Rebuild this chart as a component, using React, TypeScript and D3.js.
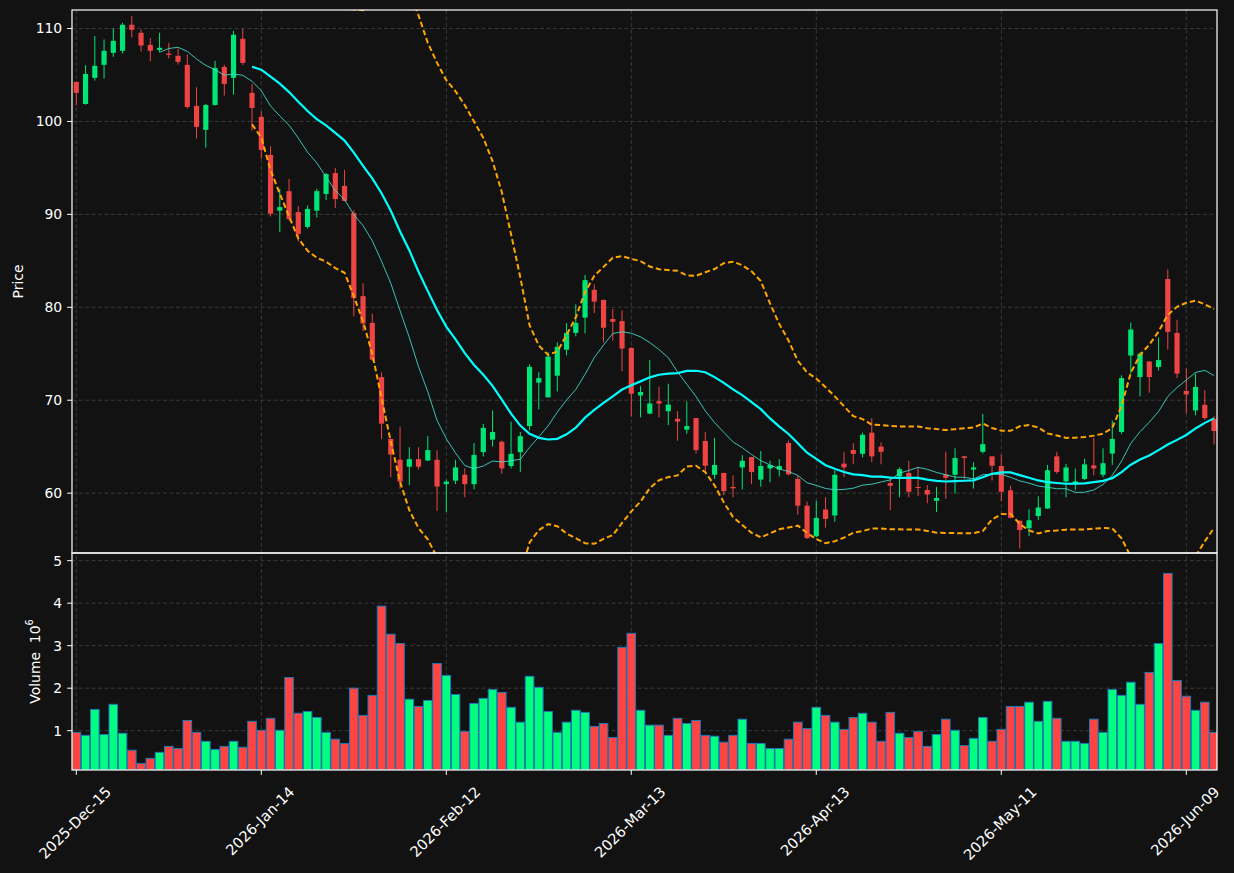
import React from 'react';
import * as d3 from 'd3';

// daily OHLC (one entry per trading day)
const opens = [
  104.25, 101.88, 104.69, 106.09, 107.38, 107.6, 110.4, 109.54, 108.24, 107.7,
  107.31, 107.06, 106.09, 101.67, 99.09, 101.77, 105.87, 104.69, 108.89, 103.07,
  100.49, 96.39, 90.4, 92.5, 90.25, 88.65, 90.4, 92.2, 94.44, 93.06,
  90.14, 81.2, 78.32, 72.49, 65.83, 63.59, 62.84, 63.66, 63.51, 63.59,
  60.97, 61.35, 61.98, 60.97, 64.41, 65.76, 65.53, 62.92, 64.41, 67.22,
  71.89, 70.32, 72.64, 75.44, 77.24, 78.89, 81.88, 80.79, 78.74, 78.51,
  75.63, 70.51, 68.56, 69.9, 68.82, 68.0, 66.84, 68.08, 65.61, 61.98,
  62.17, 60.67, 62.77, 63.89, 61.46, 62.66, 62.54, 65.39, 61.53, 58.65,
  55.36, 58.24, 57.6, 63.18, 64.64, 64.23, 66.51, 65.01, 61.08, 61.8,
  62.17, 60.67, 60.34, 59.18, 62.02, 61.98, 63.96, 62.54, 64.45, 63.96,
  62.92, 60.3, 57.04, 56.22, 57.53, 58.35, 63.96, 61.27, 61.05, 61.53,
  62.99, 61.98, 64.26, 66.58, 74.81, 72.49, 74.17, 73.58, 83.04, 77.24,
  71.0, 68.9, 69.5, 68.0,
];
const highs = [
  104.3, 106.05, 109.18, 108.82, 110.0, 110.61, 111.33, 109.9, 108.96, 109.54,
  108.46, 107.85, 107.2, 103.68, 101.88, 106.52, 106.09, 109.75, 109.97, 104.04,
  101.1, 97.32, 92.76, 93.81, 90.89, 90.96, 92.76, 94.44, 95.0, 94.78,
  90.44, 82.59, 79.3, 73.01, 65.91, 67.14, 64.94, 64.94, 66.13, 64.61,
  61.46, 63.59, 62.66, 65.39, 67.44, 68.9, 65.65, 67.7, 66.58, 73.87,
  73.01, 75.18, 76.23, 78.29, 80.31, 83.48, 82.48, 80.85, 79.82, 79.67,
  75.7, 71.52, 74.32, 71.44, 71.77, 68.83, 69.87, 68.1, 66.58, 65.95,
  62.2, 61.91, 64.08, 63.9, 64.53, 63.48, 63.66, 65.65, 61.91, 59.1,
  59.18, 59.55, 62.47, 64.45, 65.39, 66.51, 68.08, 65.46, 61.72, 62.77,
  63.48, 62.84, 60.86, 60.67, 64.45, 64.83, 63.98, 63.33, 68.53, 63.98,
  64.15, 60.79, 57.06, 58.28, 59.66, 63.03, 64.45, 63.14, 62.66, 63.7,
  65.95, 64.83, 67.82, 72.68, 78.36, 75.18, 74.2, 76.75, 84.08, 78.66,
  73.43, 72.87, 71.07, 68.26,
];
const lows = [
  101.74, 101.81, 104.4, 104.62, 106.95, 107.31, 109.04, 107.52, 106.48, 107.45,
  106.77, 106.12, 101.38, 98.16, 97.18, 101.7, 102.78, 102.89, 106.05, 99.01,
  95.99, 89.77, 88.09, 89.32, 87.08, 88.46, 89.66, 91.53, 90.7, 91.41,
  79.0, 77.43, 74.25, 65.83, 61.72, 60.49, 60.86, 62.54, 63.48, 58.09,
  57.98, 60.97, 59.55, 60.41, 63.96, 65.01, 62.09, 62.66, 62.28, 66.77,
  69.01, 70.25, 70.96, 74.81, 76.87, 77.17, 79.37, 76.23, 76.42, 73.13,
  68.26, 68.15, 68.5, 68.15, 67.33, 65.65, 66.39, 64.26, 62.28, 61.53,
  59.78, 59.55, 60.41, 60.97, 60.71, 61.16, 61.8, 61.91, 57.68, 55.06,
  55.28, 56.29, 56.93, 61.72, 63.1, 63.85, 63.33, 63.1, 58.17, 59.55,
  59.55, 59.7, 58.91, 57.98, 59.4, 59.96, 61.53, 60.49, 64.26, 61.35,
  59.14, 57.3, 54.05, 55.36, 57.12, 58.3, 62.09, 59.55, 60.3, 61.42,
  61.91, 61.72, 63.03, 66.39, 72.87, 70.43, 70.81, 73.2, 75.44, 72.38,
  68.56, 68.38, 67.89, 65.24,
];
const closes = [
  103.07, 105.11, 105.98, 107.6, 108.67, 110.4, 109.86, 108.17, 107.6, 107.92,
  107.16, 106.41, 101.56, 99.41, 101.77, 105.76, 104.04, 109.32, 106.3, 101.45,
  96.93, 90.07, 90.78, 89.51, 87.9, 90.59, 92.5, 94.33, 91.64, 91.45,
  80.98, 78.25, 74.36, 67.48, 64.15, 61.24, 63.66, 62.84, 64.64, 60.71,
  61.24, 62.77, 60.97, 64.11, 67.03, 66.58, 62.66, 64.23, 66.13, 73.58,
  72.38, 74.7, 75.74, 77.24, 78.32, 82.92, 80.61, 77.8, 78.44, 75.56,
  70.7, 70.88, 69.65, 69.64, 69.53, 67.7, 67.22, 64.64, 62.95, 63.03,
  60.22, 60.52, 63.48, 62.28, 62.92, 63.03, 62.92, 62.02, 58.65, 55.17,
  57.34, 57.23, 61.98, 62.77, 64.23, 66.28, 63.96, 64.45, 60.79, 62.58,
  60.15, 60.56, 59.85, 59.48, 61.65, 63.78, 63.78, 62.77, 65.27, 62.95,
  60.15, 57.34, 56.03, 57.08, 58.46, 62.47, 62.28, 62.77, 61.27, 63.1,
  62.66, 63.22, 65.83, 72.38, 77.61, 75.0, 72.49, 74.32, 77.35, 72.87,
  70.62, 71.44, 68.08, 66.69,
];
// volume in millions
const volumes = [
  0.96, 0.89, 1.5, 0.91, 1.62, 0.94, 0.54, 0.23, 0.35, 0.49,
  0.63, 0.58, 1.24, 0.96, 0.75, 0.56, 0.63, 0.75, 0.61, 1.22,
  1.01, 1.29, 1.01, 2.25, 1.41, 1.45, 1.31, 0.96, 0.8, 0.7,
  2.0, 1.36, 1.83, 3.93, 3.27, 3.05, 1.74, 1.57, 1.71, 2.58,
  2.3, 1.85, 0.98, 1.64, 1.76, 1.97, 1.9, 1.55, 1.2, 2.28,
  2.02, 1.45, 0.96, 1.2, 1.48, 1.43, 1.1, 1.17, 0.84, 2.96,
  3.29, 1.48, 1.13, 1.13, 0.89, 1.29, 1.17, 1.24, 0.89, 0.87,
  0.73, 0.89, 1.27, 0.7, 0.7, 0.58, 0.58, 0.8, 1.2, 1.05,
  1.55, 1.36, 1.2, 1.03, 1.31, 1.41, 1.2, 0.75, 1.43, 0.94,
  0.84, 0.98, 0.63, 0.91, 1.27, 1.01, 0.65, 0.82, 1.31, 0.75,
  1.03, 1.57, 1.57, 1.67, 1.22, 1.69, 1.29, 0.75, 0.75, 0.7,
  1.27, 0.96, 1.97, 1.83, 2.14, 1.62, 2.37, 3.05, 4.7, 2.18,
  1.81, 1.48, 1.67, 0.96,
];

const tickIdx = [0, 20, 40, 60, 80, 100, 120];
const tickLabels = ['2025-Dec-15', '2026-Jan-14', '2026-Feb-12', '2026-Mar-13', '2026-Apr-13', '2026-May-11', '2026-Jun-09'];
const priceTicks = [60, 70, 80, 90, 100, 110];
const volTicks = [1, 2, 3, 4, 5];

const FONT = 'DejaVu Sans, sans-serif';
const FS = 13.9;
const XFS = 14.6;
const BG = '#121212';
const UP = '#00e676';
const DOWN = '#ef4444';
const VUP = '#00ff80';
const VDOWN = '#ff4444';

const left = 72, right = 1217, top = 10, mid = 553, bottom = 770;

function rollMean(n: number) {
  return closes.map((_, i) => (i < n - 1 ? null : (d3.mean(closes.slice(i - n + 1, i + 1)) as number)));
}
function rollStd(n: number) {
  return closes.map((_, i) => (i < n - 1 ? null : (d3.deviation(closes.slice(i - n + 1, i + 1)) as number)));
}

let ctx: CanvasRenderingContext2D | null = null;
function textW(s: string, fs: number) {
  if (!ctx) ctx = document.createElement('canvas').getContext('2d');
  if (!ctx) return s.length * fs * 0.6;
  ctx.font = `${fs}px DejaVu Sans`;
  return ctx.measureText(s).width;
}

export default function App() {
  const x = d3.scaleLinear().domain([-0.465, 123.32]).range([left, right]);
  const yP = d3.scaleLinear().domain([53.56, 111.99]).range([mid, top]);
  const yV = d3.scaleLinear().domain([0.075, 5.18]).range([bottom, mid]);
  const step = x(1) - x(0);

  const ma10 = rollMean(10);
  const ma20 = rollMean(20);
  const sd20 = rollStd(20);
  const upper = ma20.map((m, i) => (m == null ? null : m + 2 * (sd20[i] as number)));
  const lower = ma20.map((m, i) => (m == null ? null : m - 2 * (sd20[i] as number)));

  const line = d3
    .line<number | null>()
    .defined(d => d != null)
    .x((_, i) => x(i))
    .y(d => yP(d as number));

  const bodyW = step * 0.56;
  const volW = step * 0.93;

  return (
    <svg width={1234} height={873} style={{ display: 'block', position: 'absolute', left: 0, top: 0, background: BG }}>
      <rect x={0} y={0} width={1234} height={873} fill={BG} />
      <defs>
        <clipPath id="mainClip">
          <rect x={left} y={top} width={right - left} height={mid - top} />
        </clipPath>
        <clipPath id="volClip">
          <rect x={left} y={mid} width={right - left} height={bottom - mid} />
        </clipPath>
      </defs>

      {/* grid */}
      <g stroke="#444" strokeWidth={0.8} strokeDasharray="4 2.5" fill="none">
        {priceTicks.map(t => (
          <line key={'gp' + t} x1={left} x2={right} y1={yP(t)} y2={yP(t)} />
        ))}
        {volTicks.map(t => (
          <line key={'gv' + t} x1={left} x2={right} y1={yV(t)} y2={yV(t)} />
        ))}
        {tickIdx.map(t => (
          <line key={'gx' + t} x1={x(t)} x2={x(t)} y1={top} y2={bottom} />
        ))}
      </g>

      {/* candles */}
      <g clipPath="url(#mainClip)">
        {closes.map((c, i) => {
          const o = opens[i];
          const col = c >= o ? UP : DOWN;
          const yt = yP(Math.max(o, c));
          const yb = yP(Math.min(o, c));
          return (
            <g key={'c' + i}>
              <line x1={x(i)} x2={x(i)} y1={yP(highs[i])} y2={yP(lows[i])} stroke={col} strokeWidth={1} />
              <rect x={x(i) - bodyW / 2} y={yt} width={bodyW} height={Math.max(yb - yt, 1)} fill={col} />
            </g>
          );
        })}
        <path d={line(ma10) || ''} fill="none" stroke="#40E0D0" strokeWidth={1} opacity={0.85} />
        <path d={line(ma20) || ''} fill="none" stroke="#00FFFF" strokeWidth={2.2} />
        <path d={line(upper) || ''} fill="none" stroke="#FFA500" strokeWidth={2} strokeDasharray="5.5 3" />
        <path d={line(lower) || ''} fill="none" stroke="#FFA500" strokeWidth={2} strokeDasharray="5.5 3" />
      </g>

      {/* volume */}
      <g clipPath="url(#volClip)">
        {volumes.map((v, i) => (
          <rect
            key={'v' + i}
            x={x(i) - volW / 2}
            y={yV(v)}
            width={volW}
            height={bottom - yV(v)}
            fill={closes[i] >= opens[i] ? VUP : VDOWN}
            stroke="#1f77b4"
            strokeWidth={1}
          />
        ))}
      </g>

      {/* frames */}
      <g fill="none" stroke="#fff" strokeWidth={1.2}>
        <rect x={left} y={top} width={right - left} height={mid - top} />
        <rect x={left} y={mid} width={right - left} height={bottom - mid} />
      </g>

      {/* ticks and labels */}
      <g fontFamily={FONT} fontSize={FS} fill="#fff">
        {priceTicks.map(t => (
          <g key={'tp' + t}>
            <line x1={left - 4.9} x2={left} y1={yP(t)} y2={yP(t)} stroke="#fff" strokeWidth={1} />
            <text x={left - 9.8} y={yP(t)} textAnchor="end" dominantBaseline="central">{t}</text>
          </g>
        ))}
        {volTicks.map(t => (
          <g key={'tv' + t}>
            <line x1={left - 4.9} x2={left} y1={yV(t)} y2={yV(t)} stroke="#fff" strokeWidth={1} />
            <text x={left - 9.8} y={yV(t)} textAnchor="end" dominantBaseline="central">{t}</text>
          </g>
        ))}
        {tickIdx.map((t, k) => {
          const L = textW(tickLabels[k], XFS);
          const h = XFS * 1.17;
          const bh = (L + h) * Math.SQRT1_2;
          return (
            <g key={'tx' + t}>
              <line x1={x(t)} x2={x(t)} y1={bottom} y2={bottom + 4.9} stroke="#fff" strokeWidth={1} />
              <text
                transform={`translate(${x(t) - 1.5},${bottom + 13 + bh / 2}) rotate(-45)`}
                textAnchor="middle"
                dominantBaseline="central"
                fontSize={XFS}
              >
                {tickLabels[k]}
              </text>
            </g>
          );
        })}
        <text transform={`translate(18,${(top + mid) / 2}) rotate(-90)`} textAnchor="middle" dominantBaseline="central">
          Price
        </text>
        <text transform={`translate(35,${(mid + bottom) / 2}) rotate(-90)`} textAnchor="middle" dominantBaseline="central">
          Volume{'\u00a0\u00a0'}10
          <tspan baselineShift="super" fontSize={FS * 0.7}>6</tspan>
        </text>
      </g>
    </svg>
  );
}
